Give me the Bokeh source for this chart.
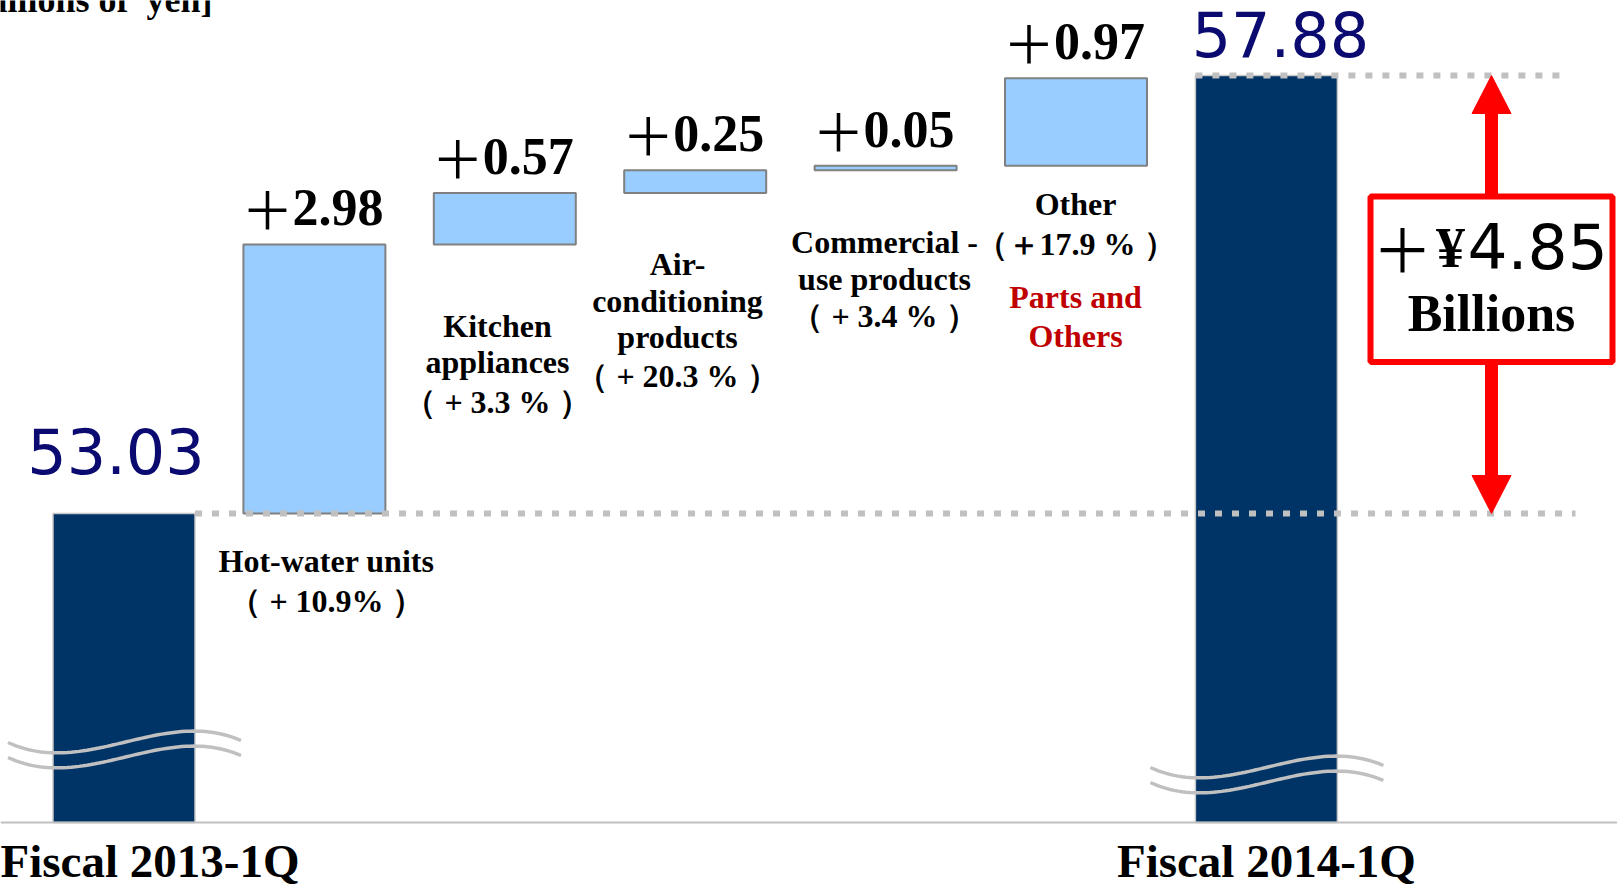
import numpy as np
from bokeh.plotting import figure
from bokeh.models import Range1d, Span
from bokeh.core.properties import value
from bokeh.embed import file_html
from bokeh.resources import INLINE

# ---- data: net sales by product group, billions of yen ----
periods = ["Fiscal 2013-1Q", "Fiscal 2014-1Q"]
period_totals = [53.03, 57.88]
segments = ["Hot-water units", "Kitchen\nappliances", "Air-\nconditioning\nproducts",
            "Commercial -\nuse products", "Other"]
segment_changes = [2.98, 0.57, 0.25, 0.05, 0.97]
segment_growth = ["（ + 10.9% ）", "（ + 3.3 % ）", "（ + 20.3 % ）", "（ + 3.4 % ）", "（＋17.9 % ）"]
other_group = "Parts and\nOthers"
total_change = 4.85
unit_label = "[Billions of\u00a0 yen]"

# ---- layout helpers (pixel <-> data) ----
W, H = 1617, 886
X0_PX, STEP_PX = 123.5, 190.4
PY_START, PY_END = 513.0, 75.0
PPU = (PY_START - PY_END) / (period_totals[1] - period_totals[0])
BASELINE_FIX = 0.36   # lift applied to alphabetic-baseline text, in em


def xd(px):
    return (px - X0_PX) / STEP_PX


def yd(py):
    return period_totals[1] - (py - PY_END) / PPU


def dxp(px):
    return px / STEP_PX


def dyp(py):
    return py / PPU


def lift(size):
    return dyp(BASELINE_FIX * size)


BAR_W = dxp(142)
FLOOR = yd(822)

NAVY = "#003366"
LIGHT = "#99CCFF"
GRAY = "#C0C0C0"
RED = "#FF0000"
SERIF = value("Liberation Serif")
SANS = value("DejaVu Sans")
CJK = value("Noto Sans CJK JP")

p = figure(width=W, height=H, x_range=Range1d(xd(0), xd(W)), y_range=Range1d(yd(H), yd(0)),
           output_backend="svg", toolbar_location=None, min_border=0)
p.axis.visible = False
p.grid.visible = False
p.outline_line_color = None
p.background_fill_color = "white"
p.border_fill_color = "white"

n = len(segments)
seg_x = np.arange(1, n + 1)
tot_x = [0, n + 1]
tops = list(period_totals[0] + np.cumsum(segment_changes))
bottoms = [period_totals[0]] + tops[:-1]

# increment bars
p.vbar(x=seg_x, width=BAR_W, bottom=bottoms, top=tops,
       fill_color=LIGHT, line_color="#808080", line_width=2)

# period totals (axis truncated)
p.vbar(x=tot_x, width=BAR_W, bottom=FLOOR, top=period_totals,
       fill_color=NAVY, line_color="#C8C8C8", line_width=1.5)

# dotted reference levels
p.line(x=[tot_x[0] + BAR_W / 2, xd(1575)], y=[period_totals[0]] * 2,
       line_color=GRAY, line_width=6, line_dash="7 10", line_cap="butt")
p.line(x=[tot_x[1] - BAR_W / 2, xd(1563)], y=[period_totals[1]] * 2,
       line_color=GRAY, line_width=6, line_dash="7 10", line_cap="butt")

# baseline
p.add_layout(Span(location=FLOOR, dimension="width", line_color=GRAY, line_width=2))


# axis-break waves
def wave(cx_px, y0_px):
    t = np.linspace(0, 1, 60)
    P = np.array([[-116, 0], [-38, 36], [39, -36], [117, -2]], dtype=float)
    pts = ((1 - t) ** 3)[:, None] * P[0] + (3 * (1 - t) ** 2 * t)[:, None] * P[1] \
        + (3 * (1 - t) * t ** 2)[:, None] * P[2] + (t ** 3)[:, None] * P[3]
    return [xd(cx_px + u) for u in pts[:, 0]], [yd(y0_px + v) for v in pts[:, 1]]


for i, y0 in zip(tot_x, [742, 767]):
    cx = X0_PX + i * STEP_PX
    for off in (0, 15):
        xs, ys = wave(cx, y0 + off)
        p.line(xs, ys, line_color=GRAY, line_width=3.5)


def label(x, y, text, font=SERIF, size=32, bold=True, align="center", color="black"):
    p.text(x=x, y=[v + lift(size) for v in y], text=text, text_font=font,
           text_font_style="bold" if bold else "normal", text_font_size=f"{size}px",
           text_align=align, text_baseline="alphabetic", text_color=color)


# value labels above increments: thin plus sign + bold figure
val_y = [t + dyp(18) for t in tops]
label(list(seg_x - dxp(47)), val_y, ["＋"] * n, font=CJK, size=52, bold=False)
label(list(seg_x - dxp(22)), val_y, [f"{v:.2f}" for v in segment_changes], size=52, align="left")

# period total labels
label([tot_x[0] - dxp(8), tot_x[1] + dxp(14)],
      [period_totals[0] + dyp(40), period_totals[1] + dyp(19)],
      [f"{v:.2f}" for v in period_totals], font=SANS, size=62, bold=False, color="#0A0A70")

# segment names and growth rates
label_cx = [326, 497, 677, 884, 1075]
label_base = [[572, 612], [337, 373, 413], [275, 312, 348, 387], [253, 290, 327], [215, 255]]
lx, ly, lt = [], [], []
for name, growth, cx, bases in zip(segments, segment_growth, label_cx, label_base):
    lines = name.split("\n") + [growth]
    for line, b in zip(lines, bases):
        lx.append(xd(cx))
        ly.append(yd(b))
        lt.append(line)
label(lx, ly, lt, size=32)
label([xd(1075)] * 2, [yd(308), yd(347)], other_group.split("\n"), size=32, color="#C00000")

# period names under the axis
label([xd(0)], [yd(877)], [periods[0]], size=47, align="left")
label([tot_x[1]], [yd(877)], [periods[1]], size=47)

# unit caption
label([xd(212)], [yd(12)], [unit_label], size=36, align="right")

# change arrows between the two totals
ax = xd(1491)
box_top, box_bot = yd(196), yd(361.5)
head_len, head_half = dyp(38), dxp(19.5)
up_tip, dn_tip = period_totals[1], period_totals[0]
p.segment(x0=[ax, ax], y0=[box_top, box_bot], x1=[ax, ax],
          y1=[up_tip - head_len, dn_tip + head_len], line_color=RED, line_width=13)
p.patches(xs=[[ax, ax - head_half, ax + head_half], [ax, ax - head_half, ax + head_half]],
          ys=[[up_tip, up_tip - head_len, up_tip - head_len], [dn_tip, dn_tip + head_len, dn_tip + head_len]],
          fill_color=RED, line_color=RED, line_width=1)

p.quad(left=[xd(1370)], right=[xd(1612)], top=[box_top], bottom=[box_bot],
       fill_color="white", line_color=RED, line_width=6)

label([xd(1402)], [yd(268)], ["＋"], font=CJK, size=60, bold=False)
label([xd(1450)], [yd(268)], ["¥"], size=58)
label([xd(1467)], [yd(268)], [f"{total_change:.2f}"], font=SANS, size=63, bold=False, align="left")
label([ax], [yd(332)], ["Billions"], size=52)

open("out.html", "w").write(file_html(p, INLINE))
